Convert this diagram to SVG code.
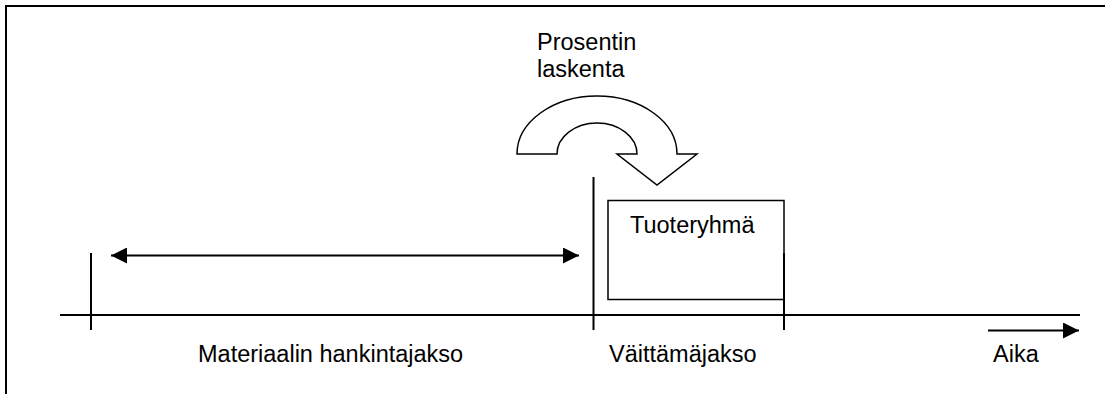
<svg xmlns="http://www.w3.org/2000/svg" width="1105" height="394" viewBox="0 0 1105 394">
  <style>
    .ln { stroke: #000; stroke-width: 2; fill: none; }
    .thin { stroke: #000; stroke-width: 1.5; fill: none; }
    .lbl { font-family: "Liberation Sans", Arial, sans-serif; font-size: 23.5px; fill: #000; }
  </style>
  <defs>
    <marker id="head" viewBox="0 0 16 16" refX="16" refY="8" markerWidth="16" markerHeight="16" markerUnits="userSpaceOnUse" orient="auto-start-reverse">
      <path d="M0,0 L16,8 L0,16 Z" fill="#000"/>
    </marker>
  </defs>
  <rect width="1105" height="394" fill="#fff"/>

  <!-- page frame: top and left edges -->
  <path class="ln" d="M6,394 V6 H1105"/>

  <!-- time axis with period ticks -->
  <g id="axis">
    <line class="ln" x1="60" y1="315" x2="1080" y2="315"/>
    <line class="ln" x1="91" y1="253" x2="91" y2="330"/>
    <line class="ln" x1="593.5" y1="177" x2="593.5" y2="330"/>
    <line class="ln" x1="784" y1="253" x2="784" y2="330"/>
  </g>

  <!-- curved calculation arrow -->
  <g id="calc-arrow">
    <path class="thin" fill="#fff" d="M517,154 H557 A40,31 0 0 1 637,154 H617 L657,185 L697,154 H677 A80,58 0 0 0 517,154 Z"/>
    <text class="lbl" x="537" y="50">Prosentin</text>
    <text class="lbl" x="537" y="77">laskenta</text>
  </g>

  <!-- product group box -->
  <g id="product-group">
    <rect class="thin" x="608" y="200.5" width="176" height="99"/>
    <text class="lbl" x="630" y="233">Tuoteryhmä</text>
  </g>

  <!-- connectors -->
  <g id="connectors">
    <line class="ln" x1="111" y1="255.5" x2="579" y2="255.5" marker-start="url(#head)" marker-end="url(#head)"/>
    <line class="ln" x1="988" y1="330.5" x2="1079" y2="330.5" marker-end="url(#head)"/>
  </g>

  <!-- period labels -->
  <g id="labels">
    <text class="lbl" x="198" y="362">Materiaalin hankintajakso</text>
    <text class="lbl" x="609" y="362">Väittämäjakso</text>
    <text class="lbl" x="993" y="362">Aika</text>
  </g>
</svg>
